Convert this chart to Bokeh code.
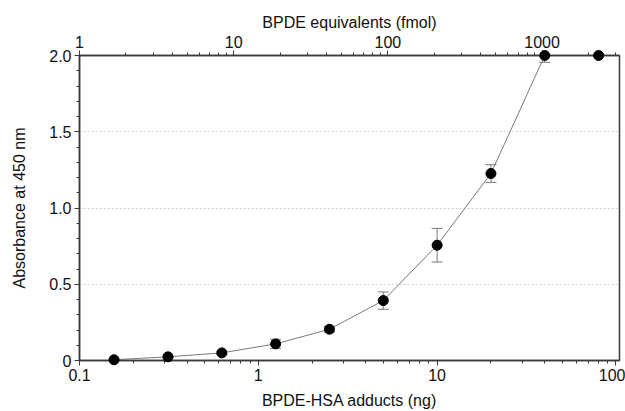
from bokeh.plotting import figure
from bokeh.models import (ColumnDataSource, Range1d, LogScale, LogAxis, FixedTicker,
                          CustomJSTickFormatter, Whisker, TeeHead)
from bokeh.embed import file_html
from bokeh.resources import INLINE

# Data
adducts_ng = [0.156, 0.3125, 0.625, 1.25, 2.5, 5, 10, 20, 40, 80]
absorbance = [0.005, 0.024, 0.05, 0.109, 0.205, 0.393, 0.756, 1.226, 2.0, 2.0]
abs_error = [0.005, 0.006, 0.01, 0.03, 0.02, 0.057, 0.11, 0.058, 0.045, 0.0]

bottom_ticks = [0.1, 1, 10, 100]
top_ticks = [1, 10, 100, 1000]
y_ticks = [0, 0.5, 1.0, 1.5, 2.0]

src = ColumnDataSource(dict(
    x=adducts_ng, y=absorbance,
    lo=[a - e for a, e in zip(absorbance, abs_error)],
    hi=[a + e for a, e in zip(absorbance, abs_error)],
))

FONT = "Liberation Sans"
AX = "#3a3a3a"

p = figure(width=625, height=411, x_axis_type="log",
           x_range=Range1d(0.1, 104.7), y_range=Range1d(0, 2.0),
           output_backend="svg", toolbar_location=None,
           min_border_left=79, min_border_right=6, min_border_top=55, min_border_bottom=51)
p.background_fill_color = "white"
p.border_fill_color = "white"
p.outline_line_color = AX
p.outline_line_width = 1.5

p.extra_x_ranges = {"fmol": Range1d(1, 3180)}
p.extra_x_scales = {"fmol": LogScale()}

def minor_for(ticks):
    out = []
    for t in ticks:
        out += [t * k for k in range(2, 10)]
    return out

# bottom axis
xa = p.xaxis[0]
xa.ticker = FixedTicker(ticks=bottom_ticks, minor_ticks=minor_for(bottom_ticks))
xa.formatter = CustomJSTickFormatter(code="return String(tick);")
xa.axis_label = "BPDE-HSA adducts (ng)"

top = LogAxis(x_range_name="fmol", axis_label="BPDE equivalents (fmol)")
top.ticker = FixedTicker(ticks=top_ticks, minor_ticks=minor_for(top_ticks))
top.formatter = CustomJSTickFormatter(code="return String(tick);")
p.add_layout(top, "above")

ya = p.yaxis[0]
ya.ticker = FixedTicker(ticks=y_ticks, minor_ticks=[i / 10 for i in range(0, 21)])
ya.formatter = CustomJSTickFormatter(code="return tick == 0 ? '0' : tick.toFixed(1);")
ya.axis_label = "Absorbance at 450 nm"

for ax in [xa, top, ya]:
    ax.axis_line_color = AX
    ax.axis_line_width = 1.5
    ax.major_tick_line_color = AX
    ax.minor_tick_line_color = AX
    ax.major_tick_in = 0
    ax.major_tick_out = 5
    ax.minor_tick_in = 0
    ax.minor_tick_out = 3
    ax.major_label_text_font = FONT
    ax.major_label_text_font_size = "16px"
    ax.major_label_text_color = "#111111"
    ax.axis_label_text_font = FONT
    ax.axis_label_text_font_size = "16px"
    ax.axis_label_text_font_style = "normal"
    ax.axis_label_text_color = "#111111"
    ax.major_label_standoff = 3

xa.axis_label_standoff = 8
top.axis_label_standoff = 2
ya.axis_label_standoff = 18

p.xgrid.visible = False
p.ygrid.ticker = FixedTicker(ticks=[0.5, 1.0, 1.5])
p.ygrid.grid_line_color = "#cccccc"
p.ygrid.grid_line_dash = "2 2"
p.ygrid.grid_line_width = 1

p.line("x", "y", source=src, line_color="#7a7a7a", line_width=1)
w = Whisker(base="x", lower="lo", upper="hi", source=src, line_color="#7a7a7a", line_width=1,
            upper_head=TeeHead(size=11, line_color="#7a7a7a"),
            lower_head=TeeHead(size=11, line_color="#7a7a7a"))
p.add_layout(w)
p.scatter("x", "y", source=src, size=10, fill_color="black", line_color="black", level="overlay")

open("out.html", "w").write(file_html(p, INLINE))
